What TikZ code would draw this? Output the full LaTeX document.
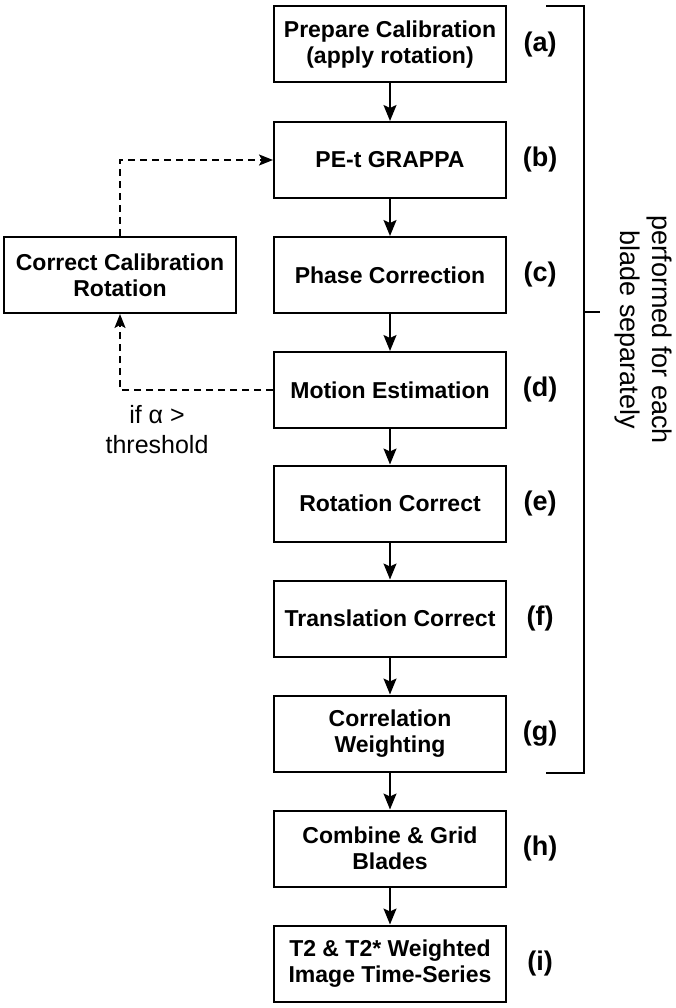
\documentclass[tikz,border=0pt]{standalone}
\usepackage{fontspec}
\setmainfont{Liberation Sans}
\usetikzlibrary{arrows.meta}
\tikzset{
  stepbox/.style={draw, line width=2pt, inner sep=0pt, minimum width=232pt, minimum height=76pt, align=center, font=\bfseries\fontsize{23}{26}\selectfont},
  steplabel/.style={font=\bfseries\fontsize{27}{30}\selectfont},
  flow/.style={line width=1.6pt, -{Stealth[length=16pt,width=13pt,inset=3pt]}},
  loop/.style={line width=1.5pt, dash pattern=on 7pt off 5pt, -{Stealth[length=14pt,width=11pt,inset=3pt]}},
  bracket/.style={line width=2pt},
}
\begin{document}
\begin{tikzpicture}[x=1pt,y=-1pt]
\useasboundingbox (0,0) rectangle (675,1008);
\node[stepbox] (a) at (390,44.5) {Prepare Calibration\\(apply rotation)};
\node[stepbox] (b) at (390,160) {PE-t GRAPPA};
\node[stepbox] (c) at (390,275) {Phase Correction};
\node[stepbox] (d) at (390,390) {Motion Estimation};
\node[stepbox] (e) at (390,503.5) {Rotation Correct};
\node[stepbox] (f) at (390,618.5) {Translation Correct};
\node[stepbox] (g) at (390,733.5) {Correlation\\Weighting};
\node[stepbox] (h) at (390,848.5) {Combine \& Grid\\Blades};
\node[stepbox] (i) at (390,963.5) {T2 \& T2* Weighted\\Image Time-Series};
\node[stepbox] (cc) at (120,275) {Correct Calibration\\Rotation};
\node[steplabel] (la) at (540,44.5) {(a)};
\node[steplabel] (lb) at (540,160) {(b)};
\node[steplabel] (lc) at (540,275) {(c)};
\node[steplabel] (ld) at (540,390) {(d)};
\node[steplabel] (le) at (540,503.5) {(e)};
\node[steplabel] (lf) at (540,618.5) {(f)};
\node[steplabel] (lg) at (540,733.5) {(g)};
\node[steplabel] (lh) at (540,848.5) {(h)};
\node[steplabel] (li) at (540,963.5) {(i)};
\draw[flow] (a) -- (b);
\draw[flow] (b) -- (c);
\draw[flow] (c) -- (d);
\draw[flow] (d) -- (e);
\draw[flow] (e) -- (f);
\draw[flow] (f) -- (g);
\draw[flow] (g) -- (h);
\draw[flow] (h) -- (i);
\draw[loop] (d.west) -| (cc.south);
\draw[loop] (cc.north) |- (b.west);
\node[align=center, font=\fontsize{25}{30}\selectfont] (thr) at (157,430) {if α >\\threshold};
\coordinate (bt) at (546,6);
\coordinate (btr) at (584,6);
\coordinate (bbr) at (584,773);
\coordinate (bb) at (546,773);
\coordinate (tk1) at (584,312);
\coordinate (tk2) at (600,312);
\draw[bracket] (bt) -- (btr) -- (bbr) -- (bb);
\draw[bracket] (tk1) -- (tk2);
\node[rotate=-90, align=center, font=\fontsize{27}{32}\selectfont] (note) at (643,330) {performed for each\\blade separately};
\end{tikzpicture}
\end{document}
